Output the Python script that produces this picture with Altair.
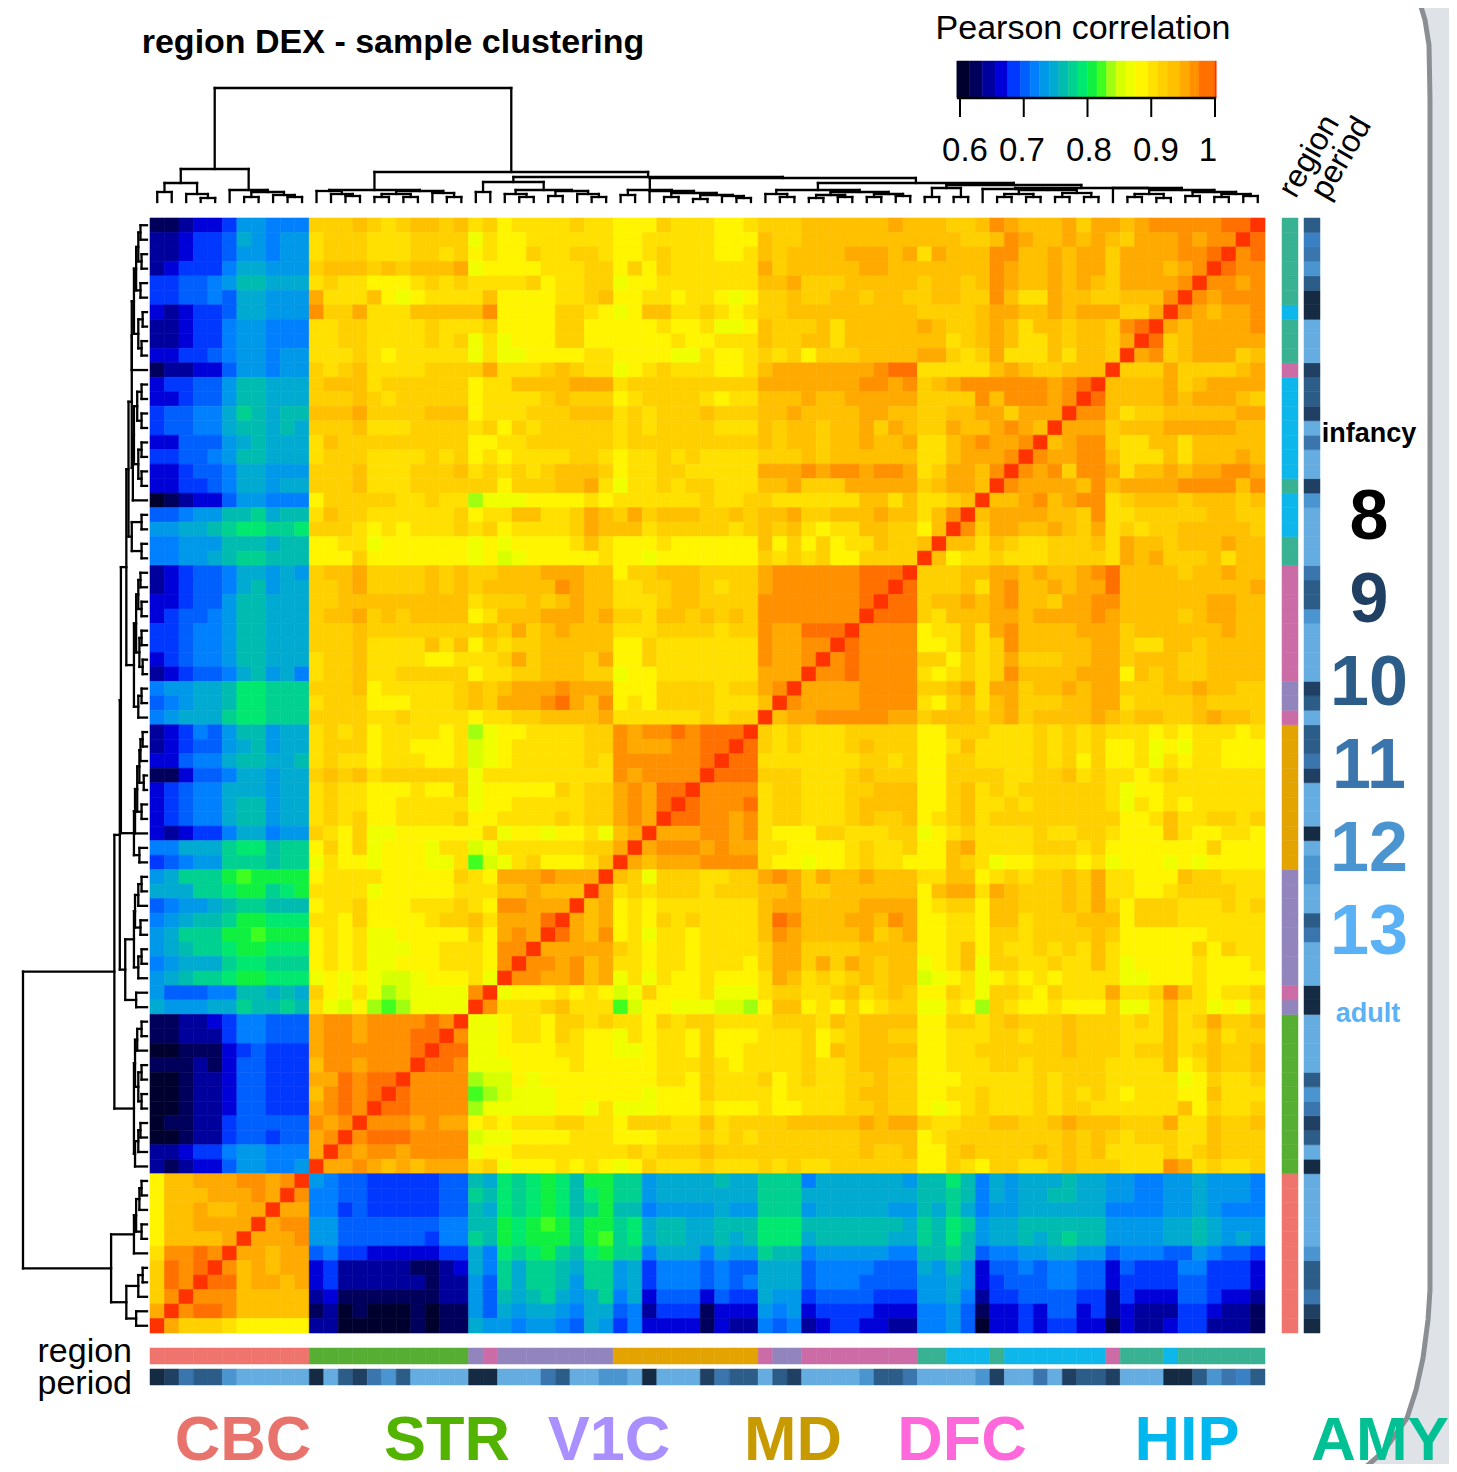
import altair as alt
import pandas as pd

# colour levels of the heat map (correlation -> colour)
LEVELS = "0123456789ABCDEFGHIJKLMNO"
LEVEL_VALUES = [.60, .615, .635, .655, .675, .695, .71, .725, .74, .755, .77, .785, .80,
                .815, .83, .845, .86, .875, .895, .91, .925, .945, .96, .975, 1.0]
LEVEL_COLORS = ["#00002e", "#00005c", "#00009c", "#0000d8", "#0038ff", "#0060ff", "#0080ff",
                "#0098e8", "#00aad0", "#00bcb0", "#00d090", "#00e870", "#10f040", "#40ff20",
                "#a0ff10", "#d8ff00", "#f0ff00", "#fff500", "#ffe000", "#ffd000", "#ffc000",
                "#ffaa00", "#ff9000", "#ff7000", "#ff3300"]

# upper-left triangle of the symmetric matrix, one string per row from the top
ROWS = [
"11233477666 JJJKJIJKKJK IJ HIIIIJII HHHJIIIHHI JJJKKKKKKLK KKJJKMLKKKLJLLKLMMMMMNNO",
"22344587677 IJJJIIIJJJJ GI HHIIIIII HHIIIIIHHH KJJKKKKKKKK KKKJJKMLKKLKLKJLLLMLMMMO",
"22344577677 IJJJIIIJJIJ HI HHJIIJJI HHIJIIIHHI KJKKKKLLLKL ILKKKMMKKLKLLJLLLLMMNO",
"23444688777 JKKKJKJKKKL GH HHHIIIJJ HJHJIIIIII LJKKKKKLLKK KKKKKMLKKLKLLJLLLKLMO",
"44556799888 IJIIHHHIJIJ II IIJHIIJJ GHHIIIIIII KKLJJJKKKKK JKKJKMLKKLKLKJLLLLMO",
"44556588777 LIIIKHGHIII IK HHHHIIJK HHIIHIIHGH JJKJJKKJKKJ JKKJJMKIILKKJJKKKMO",
"32344588777 MJJLIIIKKKK KM HHHHJJIH GHKKIIJIHI JJKKKKKKKKK JJJJKLLKKLKLLLJJLO",
"22344677666 IIJJIIIIJII IJ HHHHJJHH HHHIHHIGGH KJJJKIKKKKK LKJJKLKIKKJKKJMNO",
"22344677666 IIJJIIIIJIJ GI GHHHJJHH HHHHIHHIII KJJKKIKKKKK KKIJKLKIIKJKKJLO",
"33445677677 IIIJIHIIIII GI GGHHHHII HHHHGGIHHI JIJHJJJKKKK LLJIJLIIIKIKKJO",
"12233577677 JIJKIIIIJJJ JL IIIJKJII GHIJIIIHHI KLLLLLLLMNN IIIIIKLKJJKKKO",
"34455799888 JKKKIJJJJJJ HI IKKKKLLL IJJJJJJJJJ LLLLLLLMMLM JKLMMMMMMLMNO",
"33455799888 JJJKJIJJJJJ HI IIIJKJJJ HIJJJJIHII KKKLKKLLLLL JJJJMKMMMLMO",
"455668A9899 KKKLJJJJKKK HI IIJJJKKK IJIJJJKJJJ KKLKKKKLLKK JJKKLLJLLLO",
"45566899898 JJJKIIIJJJJ IJ HJIJJJJJ IJIJJJJIII KJKKJKKLJLK JJLKKLMLKO",
"33555789888 IKJJJJJJJJJ HH IIJJJJJJ IJJJJJJJJJ KJKKJKKLKKL IIKLMLLMO",
"44556799888 IJJJIIIIJIJ HI HIIIIJJI HIIJIJIIII JJJKJKKKKKK IIKLLLMO",
"33455688777 JJJKIIIJJJK IJ IJIJKKKJ HIIJJIIIII LLLMLMMLMML IJLLKMO",
"33445688788 JJJKIIIJJJJ JJ HJJJKKLI GIIJIJJIII KKLJJJLLLLL JKLLKO",
"01233577666 HJJJJJIIJII EG GGHHHHIH IIIIIIJIIJ JIIIIIIKKIK IIJKO",
"5567799A899 IKJJIIIIIIJ HI IKKIIJLK JLJKKKJJKJ KKLJJKKKLKK IKMO",
"77889ABBAAB JJJIHIHIIIJ IJ HIIIIJLK KKIJJJJJIJ KJKIHIIKKJJ HKO",
"66777999899 HHIIGHHHHHH GH GHHHHIKI HHHIHHHHHH KHJHJHIIKJJ KO",
"667789AA999 HHHJHHHHHHH GH FGHHHHHI HHGHHHHHHH JIJIJHHJJJJ O",
"23455688787 JKKLJJJJKJK JJ KKKLLLKK HJJKKKJJJJ LMMMMMMNNNO",
"23455689788 JJKLJJJJKJK JK KKKKMLKK IIJJKKJIJJ LMMMMMMNNO",
"33455799888 JJKKKKKKKKK IJ JJKJKLKK IIIJKKJJJJ MMMMMMMNO",
"34556799888 JKKLJKJKKKK HI KKKLLLKL JJIKKJKJKJ MMMMMMMO",
"44566799888 JJJKJJJJJJJ JK JLJKLKKK IIIJJJJIJJ MLLNNNO",
"44566799888 JJJKIIIIKIK HJ IJJKKKKK HHJIIIIIII MLLMMO",
"34566799888 IJJKIIIIHHI II JLJKKKJL HHJIIIIIII MLLMO",
"23455689786 IJJKIIJJJJJ HI IJJKKKJJ GHHIIIIIII LLLO",
"677889BBAAA JJJKHIIIIIJ KJ KLLLMLLL HHHJJJJIJJ LMO",
"567889BBAAA IJJJHHHIIIJ KJ LLLMNLKM HIHJJJJIII KO",
"67888ABBAAA JJJJIIJIIII HI IJJKKKKL IIIIIIJIJJ O",
"23465799788 IJIJHIIIIHI EG HHIIIIJJ MLMMNMNNNO",
"23455789788 IJJJHIIHHHI FG HIIIIIJJ MLLLMMNNO",
"33566899889 IJIIHIIIHHI FG HIIIIIJI MMMMMMNO",
"11355688788 JKJKIJJJJJJ GI IIIIIIII MLMMMMO",
"34566888788 IJIIHHHIHHJ GH HHHHJIJJ LMLNNO",
"34566899788 IJIIHHIIIII GH HIIIIIJJ LMLNO",
"34566899788 IJIJHHIIIIJ HH IIIIJIJJ LMLO",
"32344688677 JIHJGGHHHHH HJ GHHGHHIG KLO",
"66888ABB9AA HJHJGHHHGII FG IIIIIIJJ LO",
"45677AAA9AA GIHHGHHHGGI DF GIJHHHIK O",
"78AAACDCCCC HIIIIHHHHHJ IH LLLMLLLO",
"888AABCCABC IIIIGHHHHHI II KKLKKKO",
"56778 9AA999 HIIJHHHIIIJ IH MMLLLO",
"67899ACCBBB IIHJHHHHIJJ KI LLLNO",
"78AAACCDCCC HIHIGGHHHHH JH LMLO",
"789AABCCBBB HIHIGGGHHII IH MMO",
"67888ABBAAA HIHIGGHHHII IH MO",
"789AABCCBBB GHGHGFFGHHH IG O",
"75556699898 JHGIGEFGGGG MO",
"877788A99A9 IGFHEDEGGGG O",
"11223466555 LMMLMMMMNMO",
"11222466555 LMMLMMMNNO",
"00111345444 LMMMMMMNO",
"11121355444 KMMLMMMO",
"00122355444 LLNMNNO",
"00122355444 KMNMNO",
"00122355444 LMNMO",
"01122455555 MLMO",
"00122455455 LMO",
"22344677666 LO",
"21233577667 O",
"HKKLLLMMLMO",
"HKKKLLLMLO",
"HKKLKKLLO",
"HKKLLLLO",
"HKKKKLO",
"IMMNMO",
"JNMNO",
"JNMO",
"JMO",
"LO",
"O",
]

REGION_RUNS = [("CBC", 11), ("STR", 11), ("V1C", 1), ("DFC", 1), ("V1C", 8), ("MD", 10), ("DFC", 1),
               ("V1C", 2), ("DFC", 8), ("AMY", 2), ("HIP", 3), ("AMY", 1), ("HIP", 7), ("DFC", 1),
               ("AMY", 3), ("HIP", 1), ("AMY", 6)]
REGION_COLORS = {"CBC": "#f0746e", "STR": "#56ae32", "V1C": "#9285be", "MD": "#e3a300",
                 "DFC": "#cb6ca6", "HIP": "#0db7eb", "AMY": "#38b292"}
PERIODS = "89baa" + "c" + "ddddd" + "8" + "d" + "a9bca" + "dddd" + "88" + "ddd" + "ba" + "dd" \
          + "cc" + "d" + "8" + "ddd" + "9" + "b" + "aa" + "d" + "a9" + "dddd" + "c" + "aa" + "b" + "dddd" + "c" + "9" \
          + "dd" + "b" + "d" + "9" + "aa" + "9" + "ddd" + "88" + "a" + "c" + "b" + "e" + "a"
PERIOD_COLORS = {"8": "#152b43", "9": "#1f3f63", "a": "#2c5d88", "b": "#3a76ad", "c": "#4a94d0",
                 "d": "#65ade0", "e": "#3a80c4"}

# clustering tree: [height, left, right]; 0 is a sample
CBC = [33, [19, [10, 0, 0], [8, 0, [4, 0, 0]]], [12, 0, [10, [5, 0, 0], [7, 0, [5, 0, 0]]]]]
STR = [12, [11, 0, [8, 0, [6, 0, 0]]], [11, [8, [5, 0, 0], [5, 0, 0]], [9, 0, [5, 0, 0]]]]
G22 = [20, [10, 0, 0], [12, [8, 0, [5, 0, 0]], [11, [6, 0, 0], [8, 0, [5, 0, 0]]]]]
MD = [12, [7, 0, 0], [11, 0, [9, [5, 0, 0], [7, [3, 0, 0], [6, 0, [4, 0, 0]]]]]]
G42 = [12, [8, 0, [5, 0, 0]], [10, [7, [4, 0, 0], [5, 0, 0]], [8, [5, 0, 0], [6, 0, 0]]]]
G53 = [14, [5, 0, 0], [5, 0, 0]]
G57 = [13, 0, [12, [8, [5, 0, 0], [5, 0, 0]], [9, [5, 0, 0], [5, 0, 0]]]]
G66 = [14, 0, [12, [8, [5, 0, 0], [4, 0, 0]], [10, [6, 0, 0], [8, [5, 0, 0], [6, 0, 0]]]]]
TREE = [114, CBC, [30, STR, [25, G22, [24, MD, [19, G42, [17, G53, [14, G57, G66]]]]]]]

LEGEND_TICKS = [0.6, 0.7, 0.8, 0.9, 1.0]
LEGEND_EDGES = [0.595] + LEVEL_VALUES[1:] + [1.002]

# ------------------------------------------------------------------ tables
N = 77
tri = []
for r, s in enumerate(ROWS):
    s = s.replace(" ", "")
    n = N - r
    s = s[:n - 1]
    s = s + (s[-1] * (n - 1 - len(s)) if s else "") + "O"
    tri.append(s)
lookup = dict(zip(LEVELS, LEVEL_VALUES))
cells = []
for r in range(N):
    for c in range(N):
        ch = tri[r][c] if c <= N - 1 - r else tri[N - 1 - c][N - 1 - r]
        cells.append({"c": c, "c2": c + 1, "r": r, "r2": r + 1, "v": lookup[ch]})
cells = pd.DataFrame(cells)

regions = [name for name, k in REGION_RUNS for _ in range(k)]
strip = pd.DataFrame({
    "c": range(N), "c2": range(1, N + 1),
    "r": [N - 1 - i for i in range(N)], "r2": [N - i for i in range(N)],
    "reg": [REGION_COLORS[x] for x in regions],
    "per": [PERIOD_COLORS[x] for x in PERIODS[:N]],
})

segs = []
next_leaf = [0]
def walk(node):
    if node == 0:
        p = next_leaf[0] + 0.5
        next_leaf[0] += 1
        return p, 0
    h, a, b = node
    pa, ha = walk(a)
    pb, hb = walk(b)
    segs.append((pa, pb, h, h))
    segs.append((pa, pa, ha, h))
    segs.append((pb, pb, hb, h))
    return (pa + pb) / 2, h
walk(TREE)
den = pd.DataFrame(segs, columns=["p", "p2", "h", "h2"])
den["q"] = N - den["p"]
den["q2"] = N - den["p2"]

legend = pd.DataFrame({"a": LEGEND_EDGES[:-1], "b": LEGEND_EDGES[1:], "v": LEVEL_VALUES})
ticks = pd.DataFrame({"t": LEGEND_TICKS})

# ------------------------------------------------------------------ scales
OX, OY = 8, 8
def sx(a, b, dom): return alt.Scale(domain=dom, range=[a - OX, b - OX], nice=False, zero=False)
def sy(a, b, dom): return alt.Scale(domain=dom, range=[a - OY, b - OY], nice=False, zero=False)
cell_x = sx(150, 1265, [0, N])
cell_y = sy(218, 1333, [0, N])
heat_scale = alt.Scale(domain=LEVEL_VALUES, range=LEVEL_COLORS)
leg_x = sx(960, 1215, [0.6, 1.0])

heat = alt.Chart(cells).mark_rect(strokeWidth=0.6).encode(
    x=alt.X("c:Q", scale=cell_x, axis=None), x2="c2:Q",
    y=alt.Y("r:Q", scale=cell_y, axis=None), y2="r2:Q",
    color=alt.Color("v:Q", scale=heat_scale, legend=None),
    stroke=alt.Stroke("v:Q", scale=heat_scale, legend=None),
)

def hstrip(field, y0, y1):
    return alt.Chart(strip).mark_rect(strokeWidth=0.5).encode(
        x=alt.X("c:Q", scale=cell_x, axis=None), x2="c2:Q",
        y=alt.value(y0 - OY), y2=alt.value(y1 - OY),
        color=alt.Color(field + ":N", scale=None), stroke=alt.Stroke(field + ":N", scale=None))

def vstrip(field, x0, x1):
    return alt.Chart(strip).mark_rect(strokeWidth=0.5).encode(
        y=alt.Y("r:Q", scale=cell_y, axis=None), y2="r2:Q",
        x=alt.value(x0 - OX), x2=alt.value(x1 - OX),
        color=alt.Color(field + ":N", scale=None), stroke=alt.Stroke(field + ":N", scale=None))

top_den = alt.Chart(den).mark_rule(color="black", strokeWidth=2.3, strokeCap="square").encode(
    x=alt.X("p:Q", scale=cell_x, axis=None), x2="p2:Q",
    y=alt.Y("h:Q", scale=sy(202, 88, [0, 114]), axis=None),
    y2="h2:Q")
left_den = alt.Chart(den).mark_rule(color="black", strokeWidth=2.3, strokeCap="square").encode(
    y=alt.Y("q:Q", scale=cell_y, axis=None), y2="q2:Q",
    x=alt.X("h:Q", scale=sx(147, 23, [0, 114]), axis=None),
    x2="h2:Q")

leg_bar = alt.Chart(legend).mark_rect(strokeWidth=0.5).encode(
    x=alt.X("a:Q", scale=leg_x, axis=None), x2="b:Q",
    y=alt.value(61 - OY), y2=alt.value(97 - OY),
    color=alt.Color("v:Q", scale=heat_scale, legend=None),
    stroke=alt.Stroke("v:Q", scale=heat_scale, legend=None))
leg_ticks = alt.Chart(ticks).mark_rule(color="black", strokeWidth=2).encode(
    x=alt.X("t:Q", scale=leg_x, axis=None), y=alt.value(98 - OY), y2=alt.value(117 - OY))
leg_axis = alt.Chart(pd.DataFrame({"a": [0.595], "b": [1.002]})).mark_rule(color="black", strokeWidth=2.5).encode(
    x=alt.X("a:Q", scale=leg_x, axis=None), x2="b:Q", y=alt.value(98 - OY))

# the rounded edge of the slide behind the figure
EDGE_Y = [0, 20, 45, 100, 700, 1290, 1320, 1358, 1390, 1418, 1452, 1472]
EDGE_X = [1419, 1425, 1429, 1430, 1430, 1430, 1428, 1423, 1416, 1407, 1383, 1360]
edge = pd.DataFrame({"x": EDGE_X, "y": EDGE_Y, "x2": [1457] * len(EDGE_X)})
px_x = alt.Scale(domain=[OX, 1449], range=[0, 1441], nice=False, zero=False)
px_y = alt.Scale(domain=[OY, 1464], range=[0, 1456], nice=False, zero=False)
bg = alt.Chart(edge).mark_area(orient="horizontal", color="#dfe3e8", interpolate="linear", clip=True).encode(
    x=alt.X("x:Q", scale=px_x, axis=None), x2="x2:Q",
    y=alt.Y("y:Q", scale=px_y, axis=None))
edge_line = alt.Chart(edge).mark_line(color="#8b8e93", strokeWidth=5, interpolate="linear", clip=True).encode(
    x=alt.X("x:Q", scale=px_x, axis=None),
    y=alt.Y("y:Q", scale=px_y, axis=None), order="y:Q")

SANS = "Liberation Sans"
def label(text, x, y, size, color="black", bold=False, align="center", angle=0):
    kw = {"angle": angle} if angle else {}
    return alt.Chart(pd.DataFrame({"t": [text]})).mark_text(
        font=SANS, fontSize=size, fontWeight="bold" if bold else "normal", color=color,
        align=align, baseline="middle", **kw
    ).encode(x=alt.value(x - OX), y=alt.value(y - OY), text="t:N")

texts = [
    label("region DEX - sample clustering", 393, 43, 34, bold=True),
    label("Pearson correlation", 1083, 29, 34),
    label("0.6", 965, 151, 33), label("0.7", 1022, 151, 33), label("0.8", 1089, 151, 33),
    label("0.9", 1156, 151, 33), label("1", 1208, 151, 33),
    label("region", 1309, 156, 32, angle=300), label("period", 1341, 158, 32, angle=300),
    label("region", 132, 1352, 34, align="right"), label("period", 132, 1384, 34, align="right"),
    label("infancy", 1369, 434, 27, bold=True),
    label("8", 1369, 518, 70, "#000000", True), label("9", 1369, 601, 70, "#1f3f63", True),
    label("10", 1369, 684, 70, "#2c5d88", True), label("11", 1369, 767, 70, "#3a76ad", True),
    label("12", 1369, 850, 70, "#4a94d0", True), label("13", 1369, 933, 70, "#5ab1f5", True),
    label("adult", 1368, 1014, 27, "#5ab1f5", True),
    label("CBC", 243, 1441, 63, "#e8736c", True), label("STR", 447, 1441, 63, "#52b400", True),
    label("V1C", 609, 1441, 63, "#a98fff", True), label("MD", 793, 1441, 63, "#c79a00", True),
    label("DFC", 962, 1441, 63, "#ff68da", True), label("HIP", 1187, 1441, 63, "#00b8ee", True),
    label("AMY", 1380, 1441, 62, "#00c094", True),
]

chart = alt.layer(
    bg, edge_line, heat, top_den, left_den,
    hstrip("reg", 1348, 1364), hstrip("per", 1369, 1385),
    vstrip("reg", 1282, 1298), vstrip("per", 1304, 1320),
    leg_bar, leg_axis, leg_ticks, *texts
).resolve_scale(x="independent", y="independent").properties(
    width=1441, height=1456, padding=0, autosize=alt.AutoSizeParams(type="none"), background="white"
).configure_view(stroke=None)

chart.save("out.html", embed_options={"renderer": "svg", "actions": False})
